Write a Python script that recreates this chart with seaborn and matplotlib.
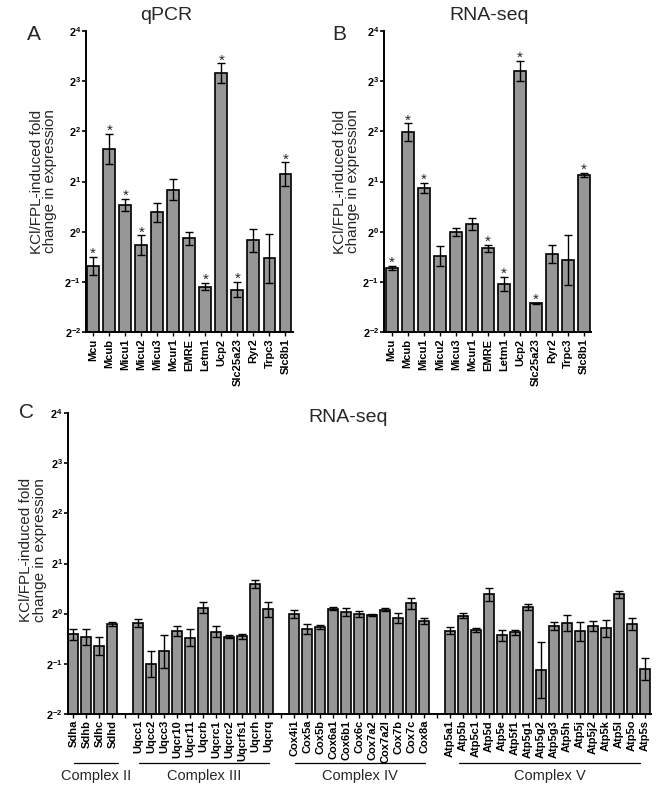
import numpy as np
import pandas as pd
import matplotlib
matplotlib.use("Agg")
import matplotlib.pyplot as plt
import seaborn as sns

# ---------------- data (log2 fold change, log2 SEM) ----------------
genes_ab = ["Mcu", "Mcub", "Micu1", "Micu2", "Micu3", "Mcur1", "EMRE",
            "Letm1", "Ucp2", "Slc25a23", "Ryr2", "Trpc3", "Slc8b1"]
qpcr_log2 = [-0.68, 1.65, 0.54, -0.27, 0.39, 0.84, -0.13, -1.09, 3.15, -1.15, -0.17, -0.53, 1.15]
qpcr_err = [0.18, 0.30, 0.12, 0.20, 0.19, 0.20, 0.13, 0.07, 0.20, 0.15, 0.23, 0.48, 0.23]
qpcr_sig = [1, 1, 1, 1, 0, 0, 0, 1, 1, 1, 0, 0, 1]

rnaseq_log2 = [-0.72, 1.98, 0.87, -0.48, 0.0, 0.15, -0.33, -1.03, 3.20, -1.42, -0.45, -0.56, 1.13]
rnaseq_err = [0.04, 0.18, 0.10, 0.20, 0.08, 0.12, 0.07, 0.14, 0.20, 0.01, 0.18, 0.50, 0.04]
rnaseq_sig = [1, 1, 1, 0, 0, 0, 1, 1, 1, 1, 0, 0, 1]

complex2_genes = ["Sdha", "Sdhb", "Sdhc", "Sdhd"]
complex2_log2 = [-0.41, -0.46, -0.64, -0.21]
complex2_err = [0.11, 0.16, 0.18, 0.04]

complex3_genes = ["Uqcc1", "Uqcc2", "Uqcc3", "Uqcr10", "Uqcr11", "Uqcrb", "Uqcrc1",
                  "Uqcrc2", "Uqcrfs1", "Uqcrh", "Uqcrq"]
complex3_log2 = [-0.19, -1.01, -0.75, -0.35, -0.48, 0.12, -0.36, -0.46, -0.45, 0.59, 0.09]
complex3_err = [0.08, 0.26, 0.33, 0.10, 0.17, 0.11, 0.11, 0.03, 0.05, 0.08, 0.15]

complex4_genes = ["Cox4i1", "Cox5a", "Cox5b", "Cox6a1", "Cox6b1", "Cox6c", "Cox7a2",
                  "Cox7a2l", "Cox7b", "Cox7c", "Cox8a"]
complex4_log2 = [0.0, -0.31, -0.26, 0.10, 0.04, -0.01, -0.03, 0.08, -0.09, 0.21, -0.15]
complex4_err = [0.08, 0.10, 0.04, 0.03, 0.08, 0.06, 0.02, 0.03, 0.10, 0.11, 0.06]

complex5_genes = ["Atp5a1", "Atp5b", "Atp5c1", "Atp5d", "Atp5e", "Atp5f1", "Atp5g1",
                  "Atp5g2", "Atp5g3", "Atp5h", "Atp5j", "Atp5j2", "Atp5k", "Atp5l",
                  "Atp5o", "Atp5s"]
complex5_log2 = [-0.34, -0.04, -0.33, 0.39, -0.43, -0.37, 0.13, -1.13, -0.24, -0.18,
                 -0.35, -0.25, -0.29, 0.39, -0.21, -1.11]
complex5_err = [0.07, 0.05, 0.04, 0.13, 0.11, 0.05, 0.06, 0.56, 0.08, 0.16, 0.19,
                0.10, 0.17, 0.07, 0.12, 0.22]

complex_names = ["Complex II", "Complex III", "Complex IV", "Complex V"]
ytick_exps = [-2, -1, 0, 1, 2, 3, 4]

# ---------------- style ----------------
sns.set_theme(style="ticks")
plt.rcParams["font.family"] = ["Liberation Sans", "DejaVu Sans"]
plt.rcParams["mathtext.fontset"] = "custom"
plt.rcParams["mathtext.rm"] = "Liberation Sans"
plt.rcParams["mathtext.bf"] = "Liberation Sans:bold"
plt.rcParams["mathtext.it"] = "Liberation Sans:italic"

BAR = "#979797"
W, H = 668, 797
fig = plt.figure(figsize=(W / 100, H / 100), dpi=100)


def rect(l, t, r, b):
    return [l / W, 1 - b / H, (r - l) / W, (b - t) / H]


def style_axes(ax, xlim):
    ax.set_yscale("log", base=2)
    ax.set_ylim(2 ** -2, 2 ** 4)
    ax.set_xlim(*xlim)
    ax.set_yticks([2.0 ** e for e in ytick_exps])
    ax.set_yticklabels([r"$\mathbf{2^{%d}}$" % e for e in ytick_exps], fontsize=7.8)
    ax.yaxis.set_minor_locator(matplotlib.ticker.NullLocator())
    for s in ["top", "right"]:
        ax.spines[s].set_visible(False)
    for s in ["left", "bottom"]:
        ax.spines[s].set_linewidth(1.4)
        ax.spines[s].set_color("black")
    ax.tick_params(axis="y", length=3, width=1.2, pad=0.5, colors="black")
    ax.tick_params(axis="x", length=3, width=1.0, pad=1.5, colors="black")
    for lab in ax.get_xticklabels():
        lab.set_rotation(90)
        lab.set_fontweight("bold")
        lab.set_fontsize(8)
    ax.set_xlabel("")
    ax.set_ylabel("KCl/FPL-induced fold\nchange in expression", fontsize=11,
                  linespacing=0.95)


def draw_panel(ax, names, order, log2v, err, width, sig=None):
    df = pd.DataFrame({"gene": names, "fold": [2.0 ** v for v in log2v]})
    sns.barplot(data=df, x="gene", y="fold", order=order, color=BAR,
                saturation=1, edgecolor="black", linewidth=1.2, width=width,
                errorbar=None, ax=ax)
    pos = [order.index(n) for n in names]
    m = np.array(log2v)
    e = np.array(err)
    y = 2.0 ** m
    lo = y - 2.0 ** (m - e)
    hi = 2.0 ** (m + e) - y
    ax.errorbar(pos, y, yerr=[lo, hi], fmt="none", ecolor="black",
                elinewidth=1.0, capsize=3, capthick=1.0, zorder=5)
    if sig is not None:
        for p, mm, ee, s in zip(pos, m, e, sig):
            if s:
                ax.annotate("*", xy=(p, 2.0 ** (mm + ee)), xytext=(0, -3),
                            textcoords="offset points", ha="center", va="bottom",
                            fontsize=11)


# Panel A
axA = fig.add_axes(rect(86, 30.7, 293, 332.3))
draw_panel(axA, genes_ab, genes_ab, qpcr_log2, qpcr_err, 0.74, qpcr_sig)
style_axes(axA, (-0.45, 12.47))
axA.yaxis.set_label_coords(-0.14, 0.5)

# Panel B
axB = fig.add_axes(rect(384, 30.7, 590.7, 332.3))
draw_panel(axB, genes_ab, genes_ab, rnaseq_log2, rnaseq_err, 0.74, rnaseq_sig)
style_axes(axB, (-0.48, 12.42))
axB.yaxis.set_label_coords(-0.115, 0.5)

# Panel C
groups = [complex2_genes, complex3_genes, complex4_genes, complex5_genes]
order_c = []
for gi, g in enumerate(groups):
    order_c += g
    if gi < len(groups) - 1:
        order_c.append(" " * (gi + 1))
names_c = complex2_genes + complex3_genes + complex4_genes + complex5_genes
log2_c = complex2_log2 + complex3_log2 + complex4_log2 + complex5_log2
err_c = complex2_err + complex3_err + complex4_err + complex5_err

axC = fig.add_axes(rect(67.7, 413.3, 650.7, 713.7))
draw_panel(axC, names_c, order_c, log2_c, err_c, 0.8)
style_axes(axC, (-0.43, len(order_c) - 1 + 0.44))
axC.yaxis.set_label_coords(-0.036, 0.545)

# group lines and labels
trans = matplotlib.transforms.blended_transform_factory(axC.transData, axC.transAxes)
line_spans = [(0.05, 3.45), (5.05, 15.05), (17.05, 27.05), (29.7, 43.6)]
for name, (x0, x1) in zip(complex_names, line_spans):
    axC.plot([x0, x1], [-0.163, -0.163], color="black", lw=0.9, transform=trans,
             clip_on=False)
    axC.text((x0 + x1) / 2, -0.207, name, transform=trans, ha="center",
             va="center", fontsize=10.5)

# titles and panel letters
fig.text(166 / W, 1 - 16 / H, "qPCR", ha="center", va="center", fontsize=14)
fig.text(489 / W, 1 - 16 / H, "RNA-seq", ha="center", va="center", fontsize=14)
fig.text(348 / W, 1 - 418 / H, "RNA-seq", ha="center", va="center", fontsize=14)
fig.text(34 / W, 1 - 35 / H, "A", ha="center", va="center", fontsize=15)
fig.text(339 / W, 1 - 35 / H, "B", ha="center", va="center", fontsize=15)
fig.text(27 / W, 1 - 412 / H, "C", ha="center", va="center", fontsize=15)

fig.savefig("out.png", dpi=100)
